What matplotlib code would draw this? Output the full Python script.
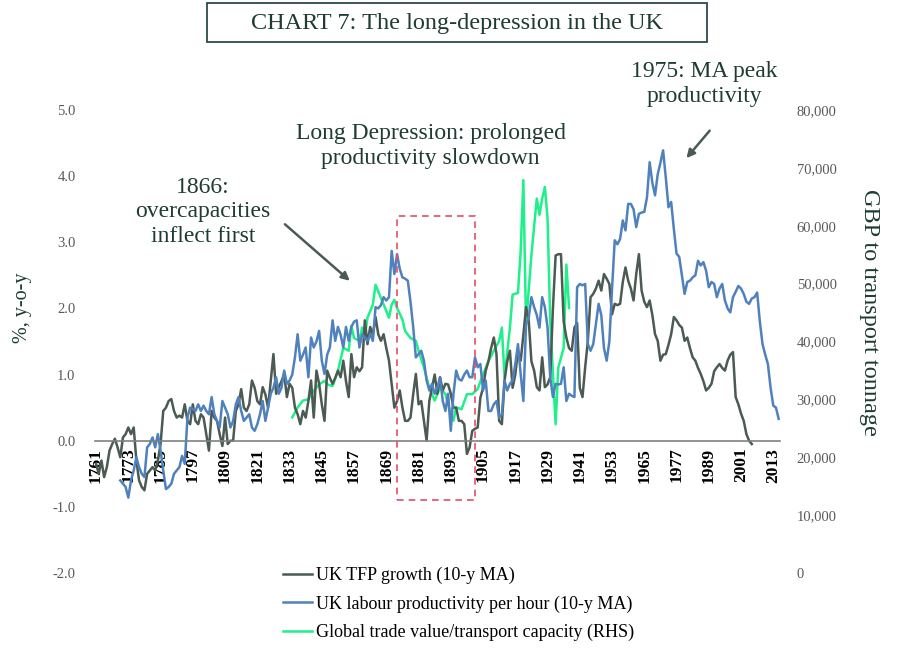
import numpy as np
import matplotlib
matplotlib.use("Agg")
import matplotlib.pyplot as plt
from matplotlib.patches import Rectangle

plt.rcParams['font.family'] = ['Liberation Serif', 'DejaVu Serif']

# UK TFP growth (10-y MA), % y-o-y, 1761-2005
tfp_years = np.arange(1761, 2006)
tfp_vals = [
    -0.35, -0.5, -0.3, -0.55, -0.4, -0.15, -0.05, 0.03, -0.1, -0.25,
    0.05, 0.1, 0.2, 0.1, 0.2, -0.3, -0.6, -0.7, -0.75, -0.5,
    -0.45, -0.4, -0.45, -0.3, -0.05, 0.45, 0.5, 0.6, 0.63, 0.45,
    0.35, 0.38, 0.35, 0.55, 0.3, 0.25, 0.55, 0.3, 0.25, 0.4,
    0.35, 0.1, -0.15, 0.45, 0.35, 0.3, 0.1, -0.08, 0.35, -0.05,
    0.0, 0.0, 0.45, 0.55, 0.78, 0.5, 0.45, 0.55, 0.91, 0.8,
    0.6, 0.55, 0.81, 0.7, 0.5, 0.9, 1.31, 0.71, 0.81, 0.9,
    1.01, 0.66, 0.86, 0.8, 0.5, 0.4, 0.25, 0.45, 0.35, 0.6,
    0.91, 0.35, 1.06, 0.86, 0.55, 0.3, 1.06, 0.95, 0.86, 0.95,
    1.06, 0.96, 1.21, 0.9, 0.66, 1.31, 0.96, 1.11, 1.05, 1.11,
    1.82, 1.46, 1.72, 1.6, 1.87, 1.61, 1.51, 1.61, 1.4, 1.21,
    0.86, 0.5, 0.6, 0.76, 0.5, 0.3, 0.3, 0.35, 0.7, 1.01,
    0.55, 0.6, 0.3, 0.0, 0.6, 0.8, 1.0, 0.71, 0.96, 0.76,
    0.86, 0.85, 0.71, 0.5, 0.5, 0.3, 0.3, 0.25, -0.2, -0.1,
    0.15, 0.18, 0.2, 0.65, 0.8, 1.06, 1.2, 1.4, 1.56, 1.31,
    0.3, 0.25, 0.91, 1.2, 1.36, 0.8, 1.0, 1.36, 1.21, 1.6,
    2.02, 1.82, 1.2, 1.06, 0.81, 0.76, 1.26, 0.81, 0.85, 0.96,
    2.0, 2.8, 2.82, 2.82, 1.8, 1.56, 1.4, 1.36, 1.71, 1.78,
    0.8, 0.66, 1.11, 1.51, 2.17, 2.22, 2.3, 2.42, 2.27, 2.52,
    2.45, 2.37, 1.91, 2.07, 2.05, 2.07, 2.4, 2.62, 2.42, 2.3,
    2.12, 2.52, 2.82, 2.27, 2.1, 2.02, 2.12, 1.9, 1.61, 1.51,
    1.21, 1.3, 1.31, 1.45, 1.61, 1.87, 1.82, 1.75, 1.71, 1.51,
    1.56, 1.4, 1.26, 1.21, 1.1, 1.01, 0.9, 0.76, 0.8, 0.86,
    1.05, 1.11, 1.16, 1.1, 1.06, 1.21, 1.3, 1.34, 0.66, 0.55,
    0.41, 0.3, 0.1, 0.0, -0.05,
]

# UK labour productivity per hour (10-y MA), % y-o-y, 1770-2015
lp_years = np.arange(1770, 2016)
lp_vals = [
    -0.6, -0.65, -0.7, -0.86, -0.6, -0.45, -0.25, -0.4, -0.5, -0.55,
    -0.1, -0.05, 0.05, -0.1, 0.1, -0.15, -0.45, -0.73, -0.7, -0.65,
    -0.5, -0.45, -0.4, -0.23, -0.35, 0.35, 0.5, 0.48, 0.45, 0.55,
    0.45, 0.53, 0.45, 0.4, 0.66, 0.4, 0.3, 0.2, 0.6, 0.5,
    0.4, 0.2, 0.3, 0.55, 0.66, 0.45, 0.3, 0.35, 0.4, 0.2,
    0.15, 0.25, 0.4, 0.6, 0.3, 0.5, 0.71, 0.8, 0.96, 0.71,
    0.8, 1.06, 0.86, 0.91, 1.0, 1.26, 1.61, 1.21, 1.3, 1.41,
    0.96, 1.56, 1.41, 1.5, 1.66, 1.21, 1.01, 1.3, 1.41, 1.82,
    1.51, 1.72, 1.6, 1.41, 1.72, 1.51, 1.72, 1.8, 1.82, 1.41,
    1.61, 1.55, 1.51, 1.61, 1.51, 2.02, 2.0, 2.05, 2.17, 2.12,
    2.17, 2.87, 2.52, 2.82, 2.6, 2.47, 2.45, 2.42, 2.1, 1.72,
    1.26, 1.31, 1.36, 1.21, 0.91, 0.76, 0.86, 0.71, 0.8, 0.96,
    0.6, 0.45, 0.71, 0.15, 0.71, 1.06, 0.93, 0.91, 1.0, 1.06,
    0.96, 0.96, 1.26, 1.11, 1.16, 0.76, 0.91, 0.45, 0.45, 0.55,
    0.6, 0.35, 0.4, 0.91, 0.76, 0.86, 0.91, 1.16, 1.46, 1.01,
    0.6, 1.76, 1.86, 2.17, 2.02, 1.9, 1.71, 2.17, 2.02, 1.71,
    0.96, 0.66, 0.86, 0.85, 0.86, 1.11, 0.6, 0.71, 0.68, 0.66,
    2.32, 2.37, 2.35, 2.37, 1.46, 1.36, 1.46, 1.76, 2.07, 1.9,
    1.4, 1.21, 1.5, 2.3, 3.03, 2.97, 3.05, 3.33, 3.18, 3.58,
    3.58, 3.5, 3.23, 3.43, 3.45, 3.46, 3.68, 4.21, 3.9, 3.71,
    4.03, 4.2, 4.39, 3.98, 3.53, 3.61, 3.2, 2.83, 2.78, 2.5,
    2.22, 2.4, 2.42, 2.47, 2.5, 2.72, 2.65, 2.7, 2.57, 2.32,
    2.4, 2.37, 2.17, 2.3, 2.37, 2.12, 2.0, 1.94, 2.17, 2.25,
    2.34, 2.3, 2.22, 2.1, 2.07, 2.15, 2.17, 2.24, 1.8, 1.46,
    1.3, 1.16, 0.8, 0.53, 0.5, 0.33,
]

# Global trade value / transport capacity (RHS), GBP per tonne
trade_years = [1834, 1836, 1838, 1840, 1842, 1844, 1846, 1847, 1849, 1851,
               1853, 1855, 1856, 1857, 1859, 1860, 1861, 1862, 1864, 1865,
               1867, 1868, 1870, 1871, 1872, 1873, 1875, 1876, 1878, 1880,
               1881, 1883, 1885, 1887, 1889, 1891, 1893, 1894, 1895, 1897,
               1899, 1901, 1903, 1905, 1907, 1909, 1911, 1912, 1913, 1915,
               1916, 1918, 1919, 1920, 1921, 1923, 1925, 1926, 1927, 1928,
               1929, 1930, 1932, 1933, 1935, 1936, 1937]
trade_vals = [26900, 28600, 29800, 30000, 31500, 32600, 33200, 32600, 32300, 34900,
              38900, 38400, 42700, 40600, 40100, 42400, 40900, 44100, 46400, 49800,
              47500, 46400, 44100, 46400, 47200, 45800, 43800, 41800, 40600, 40100,
              38400, 35500, 32000, 29800, 32000, 30900, 27500, 26300, 28600, 28300,
              30900, 30900, 31800, 34300, 36600, 38400, 40100, 42400, 33800, 42400,
              48100, 48400, 55600, 67900, 42900, 55000, 64700, 61900, 64700, 66700,
              61300, 43500, 25700, 35500, 38900, 53300, 45800]

xtick_years = list(range(1761, 2014, 12))
left_ticks = [-2, -1, 0, 1, 2, 3, 4, 5]
right_ticks = list(range(0, 80001, 10000))

assert len(tfp_vals) == len(tfp_years)
assert len(lp_vals) == len(lp_years)

c_tfp = '#4b5a52'
c_lp = '#4f81bd'
c_trade = '#1ef08a'
c_text = '#1f3b33'
c_tick = '#595959'

fig = plt.figure(figsize=(9, 6.6), dpi=100)
ax = fig.add_axes([95 / 900, 1 - 573 / 660, 685 / 900, 463 / 660])
ax2 = ax.twinx()

l1, = ax.plot(tfp_years, tfp_vals, color=c_tfp, lw=1.8, label='UK TFP growth (10-y MA)')
l2, = ax.plot(lp_years, lp_vals, color=c_lp, lw=1.8, label='UK labour productivity per hour (10-y MA)')
l3, = ax2.plot(trade_years, trade_vals, color=c_trade, lw=1.8,
               label='Global trade value/transport capacity (RHS)')
ax.set_zorder(ax2.get_zorder() + 1)
ax.patch.set_visible(False)

ax.set_xlim(1760.6, 2015.5)
ax.set_ylim(-2, 5)
ax2.set_ylim(0, 80000)

for s in ['top', 'left', 'right']:
    ax.spines[s].set_visible(False)
for s in ['top', 'left', 'right', 'bottom']:
    ax2.spines[s].set_visible(False)
ax.spines['bottom'].set_position(('data', 0))
ax.spines['bottom'].set_color('#808080')
ax.spines['bottom'].set_linewidth(1.2)

ax.set_xticks(xtick_years)
ax.set_xticklabels([str(y) for y in xtick_years], rotation=90, fontsize=12.5,
                   fontweight='bold', color='black')
ax.tick_params(axis='x', length=0, pad=5)

ax.set_yticks(left_ticks)
ax.set_yticklabels([f'{v:.1f}' for v in left_ticks], fontsize=10.5, color=c_tick)
ax.tick_params(axis='y', length=0, pad=14)
ax2.set_yticks(right_ticks)
ax2.set_yticklabels([f'{v:,}' for v in right_ticks], fontsize=10.5, color=c_tick)
ax2.tick_params(axis='y', length=0, pad=12)

ax.set_ylabel('%, y-o-y', fontsize=14.5, color=c_text)
ax.yaxis.set_label_coords(-0.092, 0.572)
ax2.set_ylabel('GBP to transport tonnage', fontsize=17.5, color=c_text, rotation=-90,
               va='center')
ax2.yaxis.set_label_coords(1.131, 0.562)

# Long Depression box
ax.add_patch(Rectangle((1873, -0.9), 29, 4.29, fill=False, ec='#e0506a',
                       lw=1.2, ls=(0, (4, 3)), zorder=6))

# annotations
ax.text(1800.8, 3.46, '1866:\novercapacities\ninflect first', ha='center', va='center',
        fontsize=17, color=c_text, linespacing=1.2)
ax.annotate('', xy=(1856.2, 2.39), xytext=(1830.5, 3.30),
            arrowprops=dict(arrowstyle='-|>', color=c_tfp, lw=1.8, mutation_scale=12))
ax.text(1885.5, 4.46, 'Long Depression: prolonged\nproductivity slowdown', ha='center',
        va='center', fontsize=17, color=c_text, linespacing=1.25)
ax.text(1987.4, 5.40, '1975: MA peak\nproductivity', ha='center', va='center',
        fontsize=17, color=c_text, linespacing=1.25)
ax.annotate('', xy=(1980, 4.24), xytext=(1990, 4.72),
            arrowprops=dict(arrowstyle='-|>', color=c_tfp, lw=1.8, mutation_scale=12))

# title box
fig.patches.append(Rectangle((207 / 900, 1 - 42 / 660), 500 / 900, 39 / 660,
                             transform=fig.transFigure, fill=False, ec='#2d4a4a', lw=1.3))
fig.text(457 / 900, 1 - 24 / 660, 'CHART 7: The long-depression in the UK', ha='center',
         va='center', fontsize=17.5, color=c_text)

fig.legend(handles=[l1, l2, l3], loc='upper left', bbox_to_anchor=(283 / 900, 1 - 567 / 660),
           frameon=False, fontsize=13, handlelength=1.6, handletextpad=0.2,
           labelspacing=0.62, borderpad=0, borderaxespad=0)

fig.savefig('out.png', dpi=100, facecolor='white')
